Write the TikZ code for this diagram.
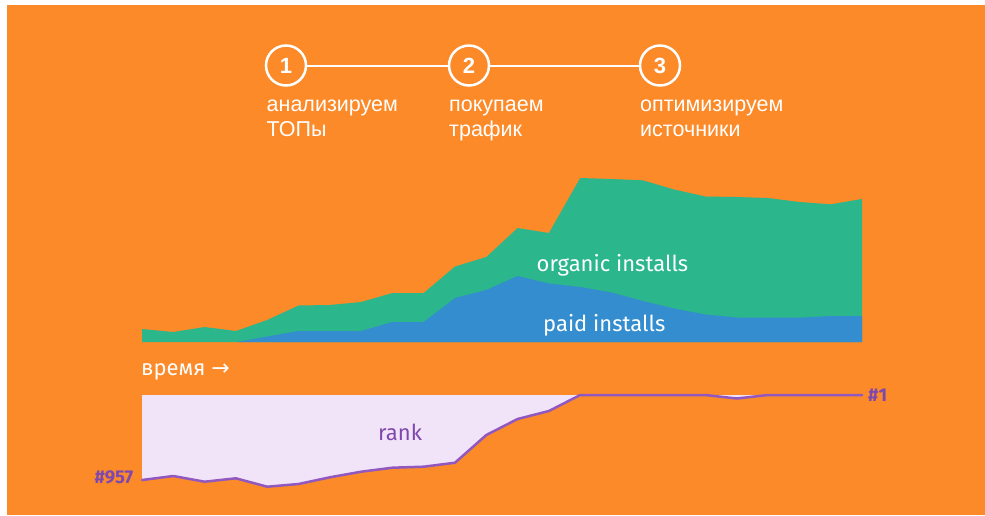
\documentclass[tikz,border=0pt]{standalone}
\usepackage{fontspec}
\setmainfont{Liberation Sans}
\newfontfamily\fira{Fira Sans}
\newfontfamily\arrowfont{DejaVu Sans}
\definecolor{bgorange}{HTML}{FC8A29}
\definecolor{grn}{HTML}{2BB68B}
\definecolor{blu}{HTML}{348DCE}
\definecolor{lav}{HTML}{F1E4F8}
\definecolor{purl}{HTML}{9159C0}
\definecolor{purt}{HTML}{7E48AE}
\begin{document}
\begin{tikzpicture}[x=1pt,y=-1pt,
  stepcircle/.style={circle,draw=white,line width=2.5pt,minimum size=40pt,inner sep=0pt,
    text=white,font=\fontsize{22}{22}\selectfont\bfseries},
  stepline/.style={white,line width=2pt},
  steptext/.style={anchor=base west,inner sep=0pt,text=white,font=\fontsize{21.5}{24}\selectfont},
  chartlabel/.style={anchor=base west,inner sep=0pt,text=white,font=\fira\fontsize{22}{22}\selectfont},
  ranklabel/.style={inner sep=0pt,text=purt,font=\fira\bfseries\fontsize{18.5}{18.5}\selectfont}]
\useasboundingbox (0,0) rectangle (985,515);
\fill[white] (0,0) rectangle (985,515);
\fill[bgorange] (7,5) rectangle (985,515);

% steps
\node[stepcircle] (c1) at (286,65.5) {1};
\node[stepcircle] (c2) at (469,65.5) {2};
\node[stepcircle] (c3) at (660,65.5) {3};
\draw[stepline] (c1) -- (c2);
\draw[stepline] (c2) -- (c3);
\node[steptext] (t1a) at (266.5,111.7) {анализируем};
\node[steptext] (t1b) at (266.5,136.5) {ТОПы};
\node[steptext] (t2a) at (449,111.7) {покупаем};
\node[steptext] (t2b) at (449,136.5) {трафик};
\node[steptext] (t3a) at (640,111.7) {оптимизируем};
\node[steptext] (t3b) at (640,136.5) {источники};

% installs chart
\fill[grn] (142,342) -- (142,329) -- (173.3,332) -- (204.6,327) -- (235.9,331)
  -- (267.2,320) -- (298.5,305.5) -- (329.8,305) -- (361.1,302) -- (392.4,293)
  -- (423.7,293) -- (455,266.5) -- (486.3,257) -- (517.6,228) -- (548.9,233)
  -- (580.2,178) -- (611.5,179) -- (642.8,180.3) -- (674.1,189.5) -- (705.4,196.5)
  -- (736.7,197) -- (768,198) -- (799.3,202) -- (830.6,204.3) -- (862,199)
  -- (862,342) -- cycle;
\fill[blu] (237,342) -- (267.2,336.5) -- (298.5,331) -- (329.8,331) -- (361.1,331)
  -- (392.4,322) -- (423.7,322) -- (455,298) -- (486.3,290) -- (517.6,276)
  -- (548.9,283.5) -- (580.2,287) -- (611.5,292.5) -- (642.8,301) -- (674.1,308.5)
  -- (705.4,314.5) -- (736.7,317.5) -- (768,317.7) -- (799.3,317.7) -- (830.6,316)
  -- (862,316) -- (862,342) -- cycle;
\node[chartlabel] (organic) at (536.5,271.7) {organic installs};
\node[chartlabel] (paid) at (543,331) {paid installs};
\node[chartlabel] (time) at (141,375) {время {\arrowfont →}};

% rank chart
\fill[lav] (142,395) -- (862,395) -- (830.6,395) -- (799.3,395) -- (768,395)
  -- (736.7,398.5) -- (705.4,395) -- (580.2,395) -- (548.9,411) -- (517.6,419)
  -- (486.3,435) -- (455,462.7) -- (423.7,466.7) -- (392.4,467.7) -- (361.1,471.7)
  -- (329.8,477.3) -- (298.5,484) -- (267.2,486.7) -- (235.9,478.3) -- (204.6,481.7)
  -- (173.3,476) -- (142,480) -- cycle;
\draw[purl,line width=2.5pt,line join=round,line cap=round]
  (142,480) -- (173.3,476) -- (204.6,481.7) -- (235.9,478.3) -- (267.2,486.7)
  -- (298.5,484) -- (329.8,477.3) -- (361.1,471.7) -- (392.4,467.7) -- (423.7,466.7)
  -- (455,462.7) -- (486.3,435) -- (517.6,419) -- (548.9,411) -- (580.2,395)
  -- (705.4,395) -- (736.7,398.5) -- (768,395) -- (862,395);
\node[chartlabel,text=purt] (rank) at (378,440) {rank};
\node[ranklabel,anchor=base east] (r957) at (133.5,483.5) {\#957};
\node[ranklabel,anchor=base west] (r1) at (868,401) {\#1};
\end{tikzpicture}
\end{document}
